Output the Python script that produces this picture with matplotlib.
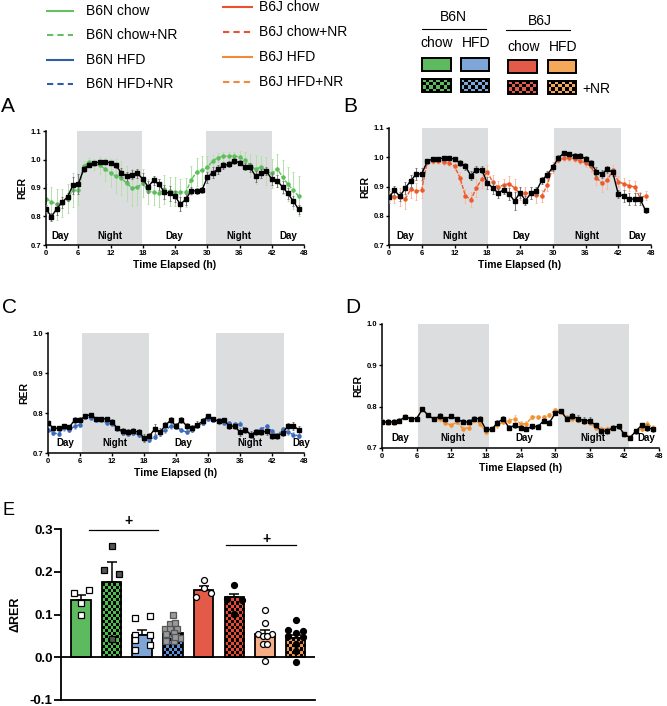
import numpy as np
import matplotlib
matplotlib.use('Agg')
import matplotlib.pyplot as plt
from matplotlib.patches import Rectangle

plt.rcParams['font.family'] = ['Liberation Sans', 'DejaVu Sans']

# ---- time course data (hourly RER, 0..47 h) ----
HOURS = np.arange(48)

a_black = [0.827, 0.799, 0.827, 0.850, 0.869, 0.909, 0.913, 0.966, 0.982, 0.989,
           0.990, 0.991, 0.989, 0.979, 0.954, 0.941, 0.947, 0.951, 0.932, 0.904,
           0.927, 0.913, 0.887, 0.881, 0.871, 0.843, 0.860, 0.890, 0.890, 0.892,
           0.937, 0.954, 0.965, 0.979, 0.983, 0.995, 0.989, 0.974, 0.972, 0.941,
           0.951, 0.959, 0.931, 0.925, 0.904, 0.881, 0.854, 0.825]
a_black_err = [0.015, 0.015, 0.02, 0.02, 0.015, 0.03, 0.035, 0.01, 0.008, 0.006,
               0.006, 0.006, 0.006, 0.01, 0.015, 0.015, 0.015, 0.015, 0.02, 0.02,
               0.015, 0.02, 0.025, 0.025, 0.02, 0.025, 0.02, 0.012, 0.01, 0.01,
               0.02, 0.02, 0.015, 0.012, 0.01, 0.01, 0.01, 0.012, 0.015, 0.02,
               0.015, 0.015, 0.02, 0.02, 0.02, 0.02, 0.018, 0.015]
a_green = [0.863, 0.852, 0.843, 0.848, 0.863, 0.892, 0.892, 0.976, 0.992, 0.983,
           0.980, 0.966, 0.953, 0.941, 0.936, 0.916, 0.901, 0.902, 0.918, 0.888,
           0.885, 0.882, 0.895, 0.888, 0.887, 0.887, 0.885, 0.927, 0.957, 0.962,
           0.972, 0.995, 1.007, 1.011, 1.012, 1.012, 1.009, 0.997, 0.980, 0.965,
           0.974, 0.959, 0.951, 0.968, 0.939, 0.913, 0.892, 0.871]
a_green_err = [0.05, 0.05, 0.055, 0.05, 0.05, 0.06, 0.05, 0.02, 0.012, 0.02,
               0.03, 0.04, 0.05, 0.06, 0.06, 0.06, 0.065, 0.06, 0.05, 0.045,
               0.045, 0.05, 0.05, 0.05, 0.05, 0.045, 0.05, 0.05, 0.05, 0.05,
               0.04, 0.02, 0.015, 0.015, 0.015, 0.015, 0.02, 0.03, 0.04, 0.05,
               0.04, 0.05, 0.05, 0.05, 0.06, 0.06, 0.065, 0.07]

b_black = [0.864, 0.887, 0.866, 0.895, 0.920, 0.943, 0.943, 0.986, 0.994, 0.995,
           0.997, 0.997, 0.994, 0.981, 0.969, 0.937, 0.958, 0.958, 0.912, 0.896,
           0.877, 0.889, 0.875, 0.850, 0.879, 0.852, 0.877, 0.885, 0.921, 0.940,
           0.966, 0.997, 1.014, 1.011, 1.005, 1.005, 0.995, 0.980, 0.951, 0.943,
           0.959, 0.948, 0.874, 0.868, 0.857, 0.857, 0.857, 0.818]
b_black_err = [0.02, 0.015, 0.015, 0.02, 0.02, 0.02, 0.02, 0.008, 0.006, 0.006,
               0.006, 0.006, 0.006, 0.01, 0.012, 0.015, 0.012, 0.012, 0.02, 0.02,
               0.015, 0.015, 0.02, 0.03, 0.02, 0.015, 0.02, 0.015, 0.012, 0.012,
               0.012, 0.01, 0.008, 0.008, 0.008, 0.008, 0.01, 0.012, 0.015, 0.015,
               0.012, 0.012, 0.015, 0.02, 0.02, 0.02, 0.02, 0.01]
b_red = [0.872, 0.864, 0.864, 0.858, 0.891, 0.883, 0.889, 0.983, 0.986, 0.986,
         0.983, 0.980, 0.970, 0.930, 0.868, 0.855, 0.895, 0.925, 0.950, 0.915,
         0.898, 0.905, 0.910, 0.895, 0.875, 0.877, 0.878, 0.870, 0.868, 0.905,
         0.965, 0.990, 0.996, 0.998, 0.995, 0.988, 0.980, 0.970, 0.930, 0.912,
         0.922, 0.955, 0.917, 0.909, 0.903, 0.898, 0.862, 0.868]
b_red_err = [0.02, 0.02, 0.03, 0.035, 0.03, 0.03, 0.03, 0.01, 0.008, 0.008,
             0.01, 0.01, 0.015, 0.02, 0.025, 0.025, 0.03, 0.03, 0.025, 0.025,
             0.02, 0.02, 0.025, 0.03, 0.02, 0.02, 0.02, 0.025, 0.02, 0.02,
             0.02, 0.01, 0.01, 0.01, 0.01, 0.01, 0.015, 0.02, 0.025, 0.03,
             0.03, 0.02, 0.02, 0.02, 0.02, 0.02, 0.02, 0.015]

c_black = [0.775, 0.762, 0.762, 0.767, 0.765, 0.782, 0.783, 0.792, 0.796, 0.786,
           0.786, 0.785, 0.778, 0.762, 0.754, 0.753, 0.754, 0.753, 0.738, 0.742,
           0.760, 0.752, 0.769, 0.782, 0.767, 0.782, 0.768, 0.762, 0.771, 0.779,
           0.793, 0.785, 0.779, 0.782, 0.767, 0.767, 0.752, 0.758, 0.746, 0.752,
           0.752, 0.754, 0.743, 0.743, 0.750, 0.768, 0.768, 0.758]
c_black_err = [0.008, 0.006, 0.006, 0.006, 0.006, 0.008, 0.008, 0.006, 0.005, 0.005,
               0.005, 0.006, 0.006, 0.006, 0.008, 0.008, 0.008, 0.008, 0.01, 0.008,
               0.012, 0.01, 0.008, 0.008, 0.008, 0.008, 0.008, 0.008, 0.008, 0.008,
               0.005, 0.005, 0.006, 0.006, 0.008, 0.008, 0.01, 0.008, 0.008, 0.008,
               0.008, 0.008, 0.008, 0.008, 0.008, 0.008, 0.01, 0.01]
c_blue = [0.758, 0.750, 0.748, 0.762, 0.757, 0.767, 0.771, 0.790, 0.788, 0.783,
          0.782, 0.775, 0.773, 0.762, 0.750, 0.748, 0.750, 0.746, 0.735, 0.733,
          0.740, 0.750, 0.757, 0.767, 0.765, 0.757, 0.752, 0.757, 0.767, 0.775,
          0.785, 0.783, 0.782, 0.775, 0.775, 0.772, 0.773, 0.758, 0.746, 0.754,
          0.760, 0.767, 0.754, 0.743, 0.760, 0.752, 0.746, 0.743]
c_blue_err = [0.005, 0.005, 0.005, 0.006, 0.005, 0.006, 0.006, 0.005, 0.005, 0.005,
              0.005, 0.005, 0.006, 0.005, 0.005, 0.006, 0.006, 0.006, 0.006, 0.005,
              0.006, 0.006, 0.006, 0.006, 0.006, 0.005, 0.005, 0.005, 0.005, 0.005,
              0.004, 0.005, 0.005, 0.005, 0.005, 0.006, 0.006, 0.006, 0.005, 0.006,
              0.006, 0.006, 0.006, 0.006, 0.006, 0.006, 0.006, 0.005]

d_black = [0.763, 0.763, 0.763, 0.766, 0.775, 0.771, 0.771, 0.794, 0.779, 0.770,
           0.777, 0.770, 0.777, 0.770, 0.763, 0.763, 0.771, 0.771, 0.745, 0.745,
           0.761, 0.771, 0.749, 0.755, 0.749, 0.745, 0.753, 0.751, 0.766, 0.761,
           0.784, 0.789, 0.771, 0.777, 0.771, 0.766, 0.766, 0.755, 0.741, 0.741,
           0.749, 0.753, 0.733, 0.725, 0.741, 0.755, 0.749, 0.745]
d_black_err = [0.006, 0.006, 0.006, 0.006, 0.005, 0.005, 0.005, 0.004, 0.004, 0.005,
               0.008, 0.006, 0.005, 0.006, 0.006, 0.006, 0.006, 0.006, 0.006, 0.005,
               0.006, 0.006, 0.006, 0.006, 0.006, 0.005, 0.006, 0.006, 0.006, 0.006,
               0.005, 0.005, 0.006, 0.008, 0.008, 0.008, 0.008, 0.006, 0.006, 0.008,
               0.006, 0.006, 0.005, 0.005, 0.006, 0.006, 0.008, 0.006]
d_orange = [0.763, 0.761, 0.761, 0.766, 0.778, 0.771, 0.771, 0.794, 0.779, 0.771,
            0.769, 0.761, 0.755, 0.763, 0.747, 0.749, 0.767, 0.759, 0.739, 0.747,
            0.755, 0.763, 0.766, 0.771, 0.759, 0.759, 0.775, 0.775, 0.774, 0.779,
            0.793, 0.788, 0.774, 0.769, 0.767, 0.763, 0.761, 0.749, 0.747, 0.747,
            0.749, 0.751, 0.731, 0.727, 0.741, 0.747, 0.758, 0.749]
d_orange_err = [0.006, 0.006, 0.006, 0.005, 0.005, 0.005, 0.005, 0.004, 0.005, 0.006,
                0.006, 0.006, 0.006, 0.006, 0.006, 0.006, 0.006, 0.006, 0.008, 0.006,
                0.006, 0.006, 0.006, 0.008, 0.006, 0.006, 0.005, 0.005, 0.005, 0.005,
                0.004, 0.005, 0.006, 0.006, 0.006, 0.006, 0.006, 0.006, 0.006, 0.006,
                0.006, 0.005, 0.005, 0.005, 0.005, 0.006, 0.008, 0.006]

# ---- panel E data ----
e_means = [0.133, 0.175, 0.053, 0.057, 0.158, 0.140, 0.055, 0.045]
e_sem = [0.013, 0.047, 0.011, 0.008, 0.009, 0.008, 0.009, 0.007]
e_points = [
    [0.151, 0.158, 0.126, 0.100],
    [0.261, 0.205, 0.194, 0.042],
    [0.091, 0.096, 0.052, 0.052, 0.040, 0.028, 0.017],
    [0.100, 0.077, 0.079, 0.067, 0.065, 0.065, 0.055, 0.057, 0.044, 0.038, 0.038, 0.047],
    [0.181, 0.142, 0.150, 0.162],
    [0.169, 0.137, 0.134, 0.102],
    [0.111, 0.081, 0.055, 0.055, 0.049, 0.049, 0.032, 0.032, -0.008],
    [0.087, 0.064, 0.057, 0.061, 0.049, 0.047, 0.030, 0.014, -0.011],
]
# horizontal scatter of the dots inside each bar
e_dx = [
    [-0.24, 0.27, 0, 0],
    [0, -0.24, 0.25, 0],
    [-0.23, 0.26, -0.23, 0.24, -0.23, 0.26, -0.23],
    [0, -0.09, 0.08, -0.25, -0.09, 0.13, -0.22, 0.02, 0.24, -0.22, 0.02, 0.08],
    [0, -0.24, 0.25, 0],
    [0, -0.25, 0.24, 0],
    [0, 0, -0.22, 0.22, -0.08, 0.08, -0.08, 0.08, 0],
    [0, -0.26, 0, 0.25, -0.26, 0.25, 0, 0, 0],
]

GREEN, BLUE, RED, ORANGE = '#5dba5e', '#7ea6d8', '#e35a48', '#f3a85a'
SHADE = '#dcddde'

W, H = 667, 706
fig = plt.figure(figsize=(W / 100, H / 100), dpi=100)


def px_axes(l, t, r, b):
    return fig.add_axes([l / W, 1 - b / H, (r - l) / W, (b - t) / H])


def checker(nx, ny):
    img = np.zeros((ny, nx, 4))
    img[..., 3] = np.indices((ny, nx)).sum(0) % 2
    return img


# overlay for legends (pixel coordinates)
ov = fig.add_axes([0, 0, 1, 1])
ov.axis('off')

line_leg = [('B6N chow', '#66bf62', '-', 47, 73, 86, 11),
            ('B6N chow+NR', '#66bf62', '--', 47, 73, 86, 35),
            ('B6N HFD', '#2f5da9', '-', 47, 73, 86, 60),
            ('B6N HFD+NR', '#2f5da9', '--', 47, 73, 86, 84),
            ('B6J chow', '#e8532d', '-', 223, 252, 259, 7),
            ('B6J chow+NR', '#e8532d', '--', 223, 252, 259, 32),
            ('B6J HFD', '#f28a3a', '-', 223, 252, 259, 57),
            ('B6J HFD+NR', '#f28a3a', '--', 223, 252, 259, 82)]
for name, c, ls, x0, x1, tx, y in line_leg:
    ov.plot([x0, x1], [y, y], color=c, lw=1.5, ls=(0, (3, 2)) if ls == '--' else '-')
    ov.text(tx, y, name, fontsize=10, va='center', ha='left')

ov.text(453, 17, 'B6N', fontsize=10, ha='center', va='center')
ov.plot([422, 486], [29, 29], color='black', lw=0.8)
ov.text(540, 21, 'B6J', fontsize=10, ha='center', va='center')
ov.plot([506, 570], [30, 30], color='black', lw=0.8)
for label, x, y in [('chow', 437, 43), ('HFD', 476, 43), ('chow', 524, 47), ('HFD', 563, 47)]:
    ov.text(x, y, label, fontsize=10, ha='center', va='center')

swatches = [(GREEN, 422, 451, 58, 79), (BLUE, 461, 489, 58, 79),
            (RED, 508, 537, 60, 81), (ORANGE, 548, 576, 60, 81)]
for c, x0, x1, y0, y1 in swatches:
    ov.add_patch(Rectangle((x0, y0), x1 - x0, 13, facecolor=c, edgecolor='black', lw=1.4))
    ov.add_patch(Rectangle((x0, y1), x1 - x0, 13, facecolor=c, edgecolor='none', zorder=1))
    ov.imshow(checker(8, 4), extent=(x0, x1, y1 + 13, y1), interpolation='nearest',
              aspect='auto', zorder=2)
    ov.add_patch(Rectangle((x0, y1), x1 - x0, 13, facecolor='none', edgecolor='black', lw=1.4, zorder=3))
ov.text(582, 89, '+NR', fontsize=10, ha='left', va='center')
ov.set_xlim(0, W)
ov.set_ylim(H, 0)

for letter, x, y, fs in [('A', 1, 112, 15), ('B', 343, 112, 15), ('C', 2, 313, 15),
                         ('D', 345, 313, 15), ('E', 3, 515, 13)]:
    fig.text(x / W, 1 - y / H, letter, fontsize=fs, va='baseline', ha='left')


def style_axes(ax, tick_size):
    ax.spines[['top', 'right']].set_visible(False)
    for s in ('left', 'bottom'):
        ax.spines[s].set_linewidth(1.1)
    ax.tick_params(labelsize=tick_size, length=2.5, width=1, pad=1)
    for lab in ax.get_xticklabels() + ax.get_yticklabels():
        lab.set_fontweight('bold')


def rer_panel(box, yticks, nights, day_x, night_x, text_y,
              black, black_err, col, col_err, color, ecolor):
    ax = px_axes(*box)
    for a, b in nights:
        ax.axvspan(a, b, color=SHADE, lw=0, zorder=0)
    ax.errorbar(HOURS, col, yerr=col_err, color=color, ls=(0, (3, 1)), lw=1,
                marker='o', ms=2.2, mec=color, ecolor=ecolor, elinewidth=0.7,
                capsize=1, capthick=0.7, zorder=2)
    ax.errorbar(HOURS, black, yerr=black_err, color='black', lw=1, marker='s',
                ms=2.2, ecolor='#777777', elinewidth=0.7, capsize=1,
                capthick=0.7, zorder=3)
    for x in day_x:
        ax.text(x, text_y, 'Day', ha='center', va='center', fontsize=7, fontweight='bold', zorder=4)
    for x in night_x:
        ax.text(x, text_y, 'Night', ha='center', va='center', fontsize=7, fontweight='bold', zorder=4)
    ax.set_xlim(0, 48)
    ax.set_ylim(yticks[0], yticks[-1])
    ax.set_xticks(range(0, 49, 6))
    ax.set_yticks(yticks, [f'{v:.1f}' for v in yticks])
    style_axes(ax, 5.5)
    ax.set_xlabel('Time Elapsed (h)', fontsize=7.5, fontweight='bold', labelpad=2)
    ax.set_ylabel('RER', fontsize=7.5, fontweight='bold', labelpad=2)
    return ax


rer_panel((46, 131, 304, 245), [0.7, 0.8, 0.9, 1.0, 1.1],
          [(5.7, 17.8), (29.7, 42.0)], [2.7, 23.9, 45.0], [11.8, 35.9], 0.731,
          a_black, a_black_err, a_green, a_green_err, '#5cbf5a', '#b6e0ad')
rer_panel((389, 128, 651, 245), [0.7, 0.8, 0.9, 1.0, 1.1],
          [(6.0, 18.1), (30.2, 42.5)], [3.0, 24.2, 45.4], [12.0, 36.3], 0.731,
          b_black, b_black_err, b_red, b_red_err, '#ef5a2a', '#f7bba3')
rer_panel((48, 333, 304, 453), [0.7, 0.8, 0.9, 1.0],
          [(6.4, 19.0), (31.5, 44.3)], [3.2, 25.3, 47.4], [12.6, 37.9], 0.725,
          c_black, c_black_err, c_blue, c_blue_err, '#3b6cc0', '#a3bde3')
rer_panel((382, 324, 659, 448), [0.7, 0.8, 0.9, 1.0],
          [(6.2, 18.5), (30.5, 42.8)], [3.2, 24.6, 45.8], [12.3, 36.6], 0.723,
          d_black, d_black_err, d_orange, d_orange_err, '#f39233', '#f9c898')

# ---- panel E ----
ax = px_axes(61, 529, 315, 700)
xpos = np.arange(8)
bar_colors = [GREEN, '#4cc04c', '#7fa5d6', '#5b8ed6', RED, '#ea4a32', '#f4ad85', '#f0944d']
checkered = [False, True, False, True, False, True, False, True]
bars = ax.bar(xpos, e_means, width=0.64, color=bar_colors, edgecolor='none', zorder=2)
ax.set_xlim(-0.65, 7.63)
ax.set_ylim(-0.1, 0.3)
for bar, chk in zip(bars, checkered):
    if chk:
        x0, w, h = bar.get_x(), bar.get_width(), bar.get_height()
        dy = 0.0072
        ny = int(np.ceil(h / dy)) + 1
        im = ax.imshow(checker(7, ny), extent=(x0, x0 + w, 0, ny * dy), origin='lower',
                       interpolation='nearest', aspect='auto', zorder=2.1)
        im.set_clip_path(bar)
ax.bar(xpos, e_means, width=0.64, facecolor='none', edgecolor='black', lw=1.3, zorder=2.2)
ax.errorbar(xpos, e_means, yerr=[np.zeros(8), e_sem], fmt='none', ecolor='black',
            elinewidth=1.1, capsize=3.5, capthick=1.1, zorder=1.9)

pt_style = [('s', 'white', 'black'), ('s', '#555555', 'black'), ('s', 'white', 'black'),
            ('s', '#9a9a9a', '#555555'), ('o', 'white', 'black'), ('o', 'black', 'black'),
            ('o', 'white', 'black'), ('o', 'black', 'black')]
for i, (vals, dxs) in enumerate(zip(e_points, e_dx)):
    m, fc, ec = pt_style[i]
    ax.plot(xpos[i] + np.array(dxs), vals, ls='none', marker=m, ms=4.3, mfc=fc, mec=ec,
            mew=0.9, zorder=4, clip_on=False)

ax.axhline(0, color='black', lw=1.3, zorder=3)
ax.plot([0.25, 2.50], [0.297, 0.297], color='black', lw=0.9)
ax.text(1.55, 0.318, '+', ha='center', va='center', fontsize=10, fontweight='bold')
ax.plot([4.73, 7.01], [0.262, 0.262], color='black', lw=0.9)
ax.text(6.06, 0.276, '+', ha='center', va='center', fontsize=10, fontweight='bold')

ax.set_xlim(-0.65, 7.63)
ax.set_ylim(-0.1, 0.3)
ax.set_xticks([])
ax.set_yticks([-0.1, 0.0, 0.1, 0.2, 0.3], ['-0.1', '0.0', '0.1', '0.2', '0.3'])
style_axes(ax, 9.5)
ax.spines['left'].set_linewidth(1.3)
ax.spines['bottom'].set_linewidth(1.3)
ax.tick_params(axis='y', length=5, width=1.3, pad=1)
ax.set_ylabel('ΔRER', fontsize=9, fontweight='bold', labelpad=6)

fig.savefig('out.png', dpi=100)
